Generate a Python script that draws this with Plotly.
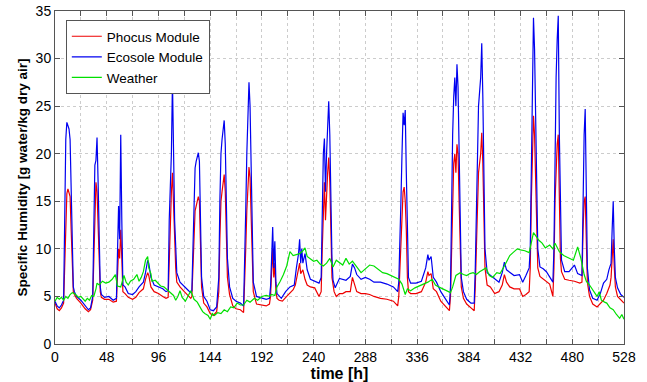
import plotly.graph_objs as go

# Ecosole module (blue) - hours / g water per kg dry air
ecosole_t = [0, 2, 4, 6, 8, 9, 10, 11, 12, 13, 14, 15, 16, 17, 18, 20, 24, 28, 31, 33,
             35, 36, 37, 38, 39, 40, 41, 42, 43, 46, 50, 54, 57, 58, 59, 60, 61, 62, 63, 65,
             68, 72, 75, 78, 82, 84, 86, 87, 89, 92, 96, 100, 103, 105, 106, 107, 108, 109, 110, 111,
             112, 113, 116, 120, 124, 126, 127, 128, 129, 130, 131, 133, 134, 135, 136, 138, 141, 144, 147, 150,
             152, 153, 154, 155, 156, 157, 158, 159, 160, 162, 165, 168, 172, 175, 176, 177, 178, 179, 180, 181,
             182, 183, 184, 187, 192, 196, 199, 200, 201, 202, 203, 204, 205, 206, 210, 214, 218, 222, 224, 226,
             227, 228, 229, 230, 232, 234, 237, 241, 245, 247, 248, 249, 250, 251, 252, 253, 254, 255, 256, 257,
             258, 260, 264, 270, 274, 276, 278, 280, 284, 288, 292, 296, 302, 308, 314, 318, 319, 320, 321, 322,
             323, 324, 325, 326, 327, 328, 330, 335, 340, 344, 346, 347, 349, 351, 354, 358, 362, 366, 367, 368,
             369, 370, 371, 372, 373, 374, 375, 376, 377, 379, 382, 386, 389, 390, 391, 392, 393, 395, 396, 397,
             398, 399, 401, 404, 408, 412, 415, 417, 419, 422, 426, 431, 434, 437, 440, 441, 442, 443, 444, 445,
             446, 447, 448, 450, 453, 456, 459, 462, 463, 464, 465, 466, 467, 468, 469, 470, 473, 477, 482, 485,
             489, 490, 491, 492, 493, 494, 496, 499, 503, 506, 509, 512, 514, 516, 517, 518, 519, 520, 522, 525,
             528]
ecosole_v = [4.5, 4.0, 3.8, 4.1, 4.6, 13, 21.5, 23.3, 23.0, 22.6, 21.5, 16, 10, 6, 5.5, 5.0, 4.6, 4.0, 3.6, 3.8,
             5, 12, 18.8, 19.3, 21.7, 17, 10, 6, 5.2, 4.9, 5.0, 4.6, 4.8, 9, 14.5, 11, 22, 13, 6.2, 6,
             5.3, 5.2, 5.5, 6.0, 6.5, 7.5, 8.8, 8.5, 7, 6.2, 6.0, 5.8, 5.5, 5.6, 13, 17, 20, 27.7, 19, 13,
             10.3, 7.5, 6.5, 6.0, 5.6, 5.4, 5.6, 10, 16, 18.5, 19.2, 20.1, 19.2, 14, 7, 5, 4.5, 3.6, 3.5, 3.9,
             7, 15, 20, 21.5, 22.5, 23.5, 21, 15, 9, 6, 4.8, 4.5, 4.3, 4.0, 8, 14, 20, 24, 27.5, 25,
             18, 10, 6.5, 5.0, 4.8, 4.7, 4.8, 6, 9, 12.3, 8, 10.8, 6.5, 5.3, 4.8, 5.5, 6.0, 6.2, 8.0, 9.5,
             11.0, 8.5, 10.0, 8.5, 9.5, 7.8, 6.8, 6.6, 6.4, 7.0, 13, 20, 21.6, 16, 20, 23, 25.5, 22, 15, 9,
             6.7, 5.9, 6.9, 6.7, 7.1, 8.4, 8.0, 7.3, 6.8, 7.0, 6.8, 6.5, 6.5, 6.3, 6.0, 5.5, 6.5, 10, 15, 20,
             24.3, 23, 24.6, 18, 10, 7, 6.4, 6.4, 6.6, 8.0, 9.4, 8.8, 9.2, 7.0, 6.5, 5.5, 4.8, 4.1, 6, 15,
             22, 26, 28.0, 25, 29.4, 27, 20, 12, 7, 5.5, 4.7, 4.3, 4.3, 8, 15, 22, 25, 28, 31.6, 26,
             16, 10, 7.5, 7.2, 6.8, 6.5, 7.5, 8.6, 7.8, 7.5, 7.2, 7.3, 6.5, 7.2, 8.0, 10, 20, 28, 34.3, 31,
             22, 14, 10, 8.1, 7.9, 7.6, 7.1, 6.5, 10, 20, 28, 32, 34.5, 22, 12, 8.8, 7.6, 7.6, 8.3, 7.4,
             7.2, 15, 22, 24.7, 14, 8, 5.7, 4.8, 4.6, 5.3, 6.4, 6.8, 7.8, 8.5, 12, 15, 10, 7, 5.9, 5.2,
             4.9]

# Phocus module (red)
phocus_t = [0, 2, 4, 6, 8, 9, 10, 11, 12, 13, 14, 15, 16, 17, 18, 20, 24, 28, 31, 33,
            35, 36, 37, 38, 39, 40, 41, 42, 43, 46, 50, 54, 57, 58, 59, 60, 61, 62, 63, 65,
            68, 72, 75, 78, 82, 84, 86, 87, 89, 92, 96, 100, 103, 105, 106, 107, 108, 109, 110, 111,
            112, 113, 116, 120, 124, 126, 127, 128, 129, 130, 131, 133, 134, 135, 136, 138, 141, 144, 147, 150,
            152, 153, 154, 155, 156, 157, 158, 159, 160, 162, 165, 168, 172, 175, 176, 177, 178, 179, 180, 181,
            182, 183, 184, 187, 192, 196, 199, 200, 201, 202, 203, 204, 205, 206, 208, 211, 215, 218, 221, 223,
            225, 227, 228, 230, 232, 234, 237, 241, 245, 247, 248, 249, 250, 251, 252, 253, 254, 255, 256, 257,
            259, 261, 264, 267, 270, 274, 276, 278, 280, 284, 288, 292, 296, 302, 308, 314, 318, 319, 320, 321,
            322, 323, 324, 325, 326, 327, 328, 330, 335, 340, 344, 346, 347, 349, 351, 354, 358, 362, 366, 367,
            368, 369, 370, 371, 372, 373, 374, 375, 376, 377, 379, 382, 386, 389, 390, 391, 392, 393, 395, 396,
            397, 398, 399, 401, 404, 408, 412, 415, 417, 419, 422, 426, 431, 434, 437, 440, 441, 442, 443, 444,
            445, 446, 447, 448, 450, 453, 456, 459, 462, 463, 464, 465, 466, 467, 468, 469, 470, 473, 477, 482,
            487, 489, 490, 491, 492, 493, 494, 496, 499, 503, 506, 509, 512, 515, 516, 517, 518, 519, 520, 522,
            525, 528]
phocus_v = [4.3, 3.7, 3.5, 3.8, 4.3, 9, 14, 15.8, 16.3, 16.0, 15.5, 12, 8, 5.5, 5.2, 4.8, 4.3, 3.7, 3.4, 3.6,
            4.6, 9, 14, 17, 16, 12, 8, 5.5, 4.9, 4.7, 4.7, 4.4, 4.5, 7, 10, 9, 12, 9, 5.5, 5.3,
            4.9, 4.7, 4.9, 5.4, 5.8, 6.8, 7.5, 7.2, 6.0, 5.5, 5.3, 5.0, 4.8, 4.9, 9, 13, 16, 18, 15, 10,
            8, 6.5, 6.0, 5.5, 5.0, 4.8, 5.0, 8, 12, 14, 14.5, 15.5, 15, 11, 6, 4.3, 3.9, 3.2, 3.0, 3.4,
            5.5, 11, 15, 16, 17, 17.8, 16, 12, 7, 5.2, 4.0, 3.7, 3.6, 3.3, 6, 10, 14, 17, 18.6, 17.5,
            13, 8, 5.5, 4.2, 4.1, 4.0, 4.2, 5, 7.5, 10, 7, 8.5, 5.5, 4.8, 4.6, 4.5, 5.0, 5.4, 5.7, 6.2,
            7.5, 8.5, 7.4, 7.8, 6.8, 6.2, 6.0, 5.9, 5.0, 5.5, 10, 15, 17, 13, 16, 18, 19.6, 17, 12, 7,
            5.5, 5.0, 5.3, 5.3, 5.5, 5.5, 7.0, 6.2, 5.5, 5.3, 5.3, 5.2, 5.0, 4.8, 4.7, 4.5, 4.0, 5, 8, 11,
            14, 16, 16.5, 15, 12, 7, 5.5, 5.3, 5.3, 5.5, 6.5, 7.6, 7.2, 7.4, 5.8, 5.5, 4.5, 4.0, 3.5, 5,
            11, 16, 19, 20, 18, 21, 20, 15, 9, 6, 4.8, 4.2, 3.8, 3.5, 6, 11, 16, 18, 20, 22.2,
            19, 12, 8, 6.2, 6.0, 5.3, 5.5, 6.2, 7.3, 6.5, 6.0, 5.8, 5.8, 5.0, 5.2, 5.5, 8, 15, 21, 24,
            22, 16, 10, 8, 7.1, 6.8, 6.5, 6.3, 5.0, 8, 15, 19, 21, 22, 16, 9, 7.6, 6.8, 6.7, 6.6,
            6.4, 6.5, 12, 15, 15.5, 10, 6.5, 5.0, 4.2, 3.9, 4.3, 4.6, 5.3, 6.2, 7, 9, 11, 8, 6, 5.0,
            4.6, 4.3]

# Weather station (green)
weather_t = [0, 2, 4, 6, 8, 10, 12, 14, 16, 18, 20, 22, 24, 26, 28, 30, 32, 34, 36, 38,
             39, 41, 44, 47, 50, 53, 56, 58, 61, 64, 66, 68, 70, 73, 76, 78, 80, 82, 84, 86,
             87, 89, 90, 93, 96, 98, 101, 104, 107, 110, 112, 114, 116, 118, 121, 124, 126, 129, 132, 135,
             137, 139, 142, 144, 146, 148, 151, 154, 157, 160, 163, 166, 169, 172, 175, 178, 181, 185, 188, 192,
             196, 199, 201, 204, 206, 209, 212, 215, 218, 221, 224, 227, 230, 232, 234, 237, 240, 243, 246, 249,
             252, 255, 258, 261, 264, 267, 270, 273, 276, 280, 284, 288, 292, 296, 300, 304, 308, 312, 316, 319,
             322, 325, 327, 330, 334, 338, 342, 346, 350, 353, 356, 360, 364, 367, 369, 372, 376, 379, 382, 385,
             388, 391, 394, 397, 400, 403, 406, 410, 413, 417, 420, 422, 425, 429, 432, 436, 440, 442, 444, 446,
             449, 452, 455, 459, 462, 464, 468, 472, 477, 481, 485, 488, 491, 493, 496, 499, 503, 505, 507, 510,
             512, 515, 518, 521, 524, 526, 528]
weather_v = [4.5, 4.9, 4.7, 4.9, 4.6, 5.0, 4.8, 5.2, 5.4, 5.3, 5.1, 4.9, 5.0, 4.7, 4.5, 4.8, 4.6, 5.1, 5.0, 5.8,
             6.4, 6.2, 6.6, 6.4, 6.5, 6.8, 7.3, 6.1, 6.0, 7.2, 6.5, 6.2, 6.6, 6.8, 7.3, 6.6, 7.0, 7.6, 8.8, 9.2,
             8.0, 7.4, 6.6, 6.7, 6.3, 6.1, 6.0, 5.7, 5.5, 5.1, 4.6, 5.0, 5.6, 4.9, 4.5, 5.2, 5.6, 4.7, 4.4, 3.8,
             3.4, 3.2, 3.0, 2.6, 3.2, 3.0, 3.3, 3.2, 3.6, 3.4, 3.9, 3.8, 4.3, 4.1, 4.1, 4.6, 4.4, 4.8, 4.6, 5.0,
             5.1, 5.0, 5.2, 5.1, 6.0, 6.6, 7.3, 8.2, 9.7, 9.3, 9.4, 9.5, 9.8, 10.1, 9.2, 8.9, 8.7, 8.8, 8.4, 8.2,
             8.5, 9.0, 8.1, 8.8, 8.5, 8.3, 9.0, 8.4, 8.7, 8.1, 7.5, 7.9, 8.3, 8.2, 7.8, 7.5, 7.4, 7.2, 7.0, 6.8,
             6.3, 5.2, 5.8, 5.6, 5.9, 6.1, 6.3, 6.5, 6.8, 6.2, 6.0, 5.8, 5.6, 5.4, 6.0, 7.2, 7.5, 7.3, 7.2, 7.4,
             7.5, 7.3, 7.6, 7.8, 8.0, 7.2, 7.0, 7.5, 7.4, 8.2, 8.8, 9.3, 9.6, 10.0, 9.9, 9.8, 9.6, 10.8, 11.7, 11.4,
             10.9, 10.6, 10.1, 10.4, 10.0, 10.6, 9.7, 9.3, 9.0, 8.8, 10.2, 9.0, 7.3, 6.6, 6.2, 5.7, 5.0, 5.5, 4.6, 4.4,
             4.3, 3.8, 3.6, 3.1, 2.7, 3.1, 2.6]

x_ticks = list(range(0, 529, 24))
x_labels = [str(v) if v % 48 == 0 else "" for v in x_ticks]
y_ticks = list(range(0, 36, 5))

font = "Liberation Sans, Arial, sans-serif"

data = [
    go.Scatter(x=phocus_t, y=phocus_v, mode="lines", name="Phocus Module",
               line={"color": "#ee0000", "width": 1.2}),
    go.Scatter(x=ecosole_t, y=ecosole_v, mode="lines", name="Ecosole Module",
               line={"color": "#0000f0", "width": 1.2}),
    go.Scatter(x=weather_t, y=weather_v, mode="lines", name="Weather",
               line={"color": "#00e000", "width": 1.2}),
]

axis_common = {
    "showline": True, "linecolor": "#555555", "linewidth": 1, "mirror": "ticks",
    "ticks": "inside", "ticklen": 5, "tickcolor": "#555555",
    "showgrid": True, "gridcolor": "#cccccc", "griddash": "dot", "gridwidth": 1,
    "zeroline": False, "automargin": False,
    "tickfont": {"size": 14, "color": "black"},
}

layout = {
    "width": 647, "height": 382,
    "margin": {"l": 55, "r": 23, "t": 11, "b": 38},
    "paper_bgcolor": "white", "plot_bgcolor": "white",
    "font": {"family": font, "color": "black"},
    "showlegend": True,
    "legend": {"x": 0.019, "y": 0.973, "xanchor": "left", "yanchor": "top",
               "bgcolor": "white", "bordercolor": "#555555", "borderwidth": 1,
               "font": {"size": 13.5}, "tracegroupgap": 0, "itemwidth": 30},
    "xaxis": dict(axis_common, range=[0, 528], tickvals=x_ticks, ticktext=x_labels,
                  title={"text": "<b>time [h]</b>", "font": {"size": 16}, "standoff": 0}),
    "yaxis": dict(axis_common, range=[0, 35], tickvals=y_ticks,
                  title={"text": "<b>Specific Humidity [g water/kg dry air]</b>",
                         "font": {"size": 13.5}, "standoff": 4}),
}

fig = go.Figure(data=data, layout=go.Layout(layout))
# page body has a default 8px margin; drop it so the figure sits at the window corner
fig.write_html("out.html", config={"displayModeBar": False},
               post_script="document.body.style.margin = '0';")
